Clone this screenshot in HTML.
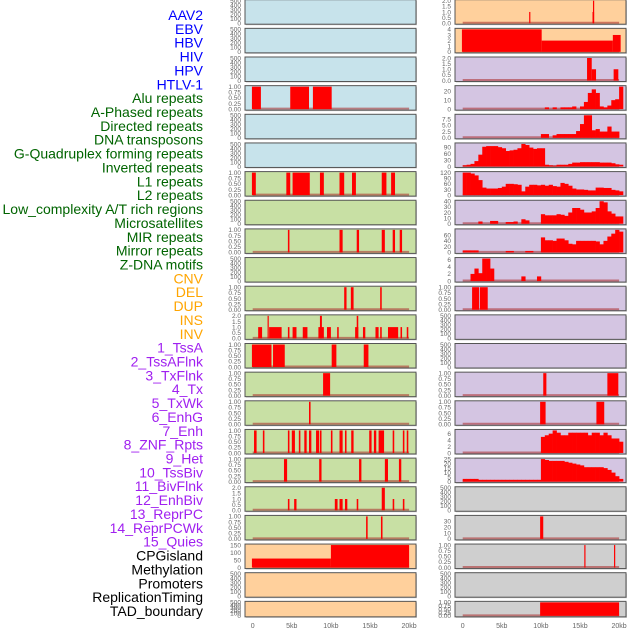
<!DOCTYPE html>
<html><head><meta charset="utf-8">
<style>
html,body{margin:0;padding:0;background:#fff;}
svg{display:block;font-family:"Liberation Sans",sans-serif;}
</style></head>
<body>
<svg id="chart" width="630" height="630" viewBox="0 0 630 630" xmlns="http://www.w3.org/2000/svg">
<g id="labels"></g>
<g id="panels"></g>
<g id="xaxis"></g>
</svg>
<script>
const trackLabels = ["AAV2","EBV","HBV","HIV","HPV","HTLV-1","Alu repeats","A-Phased repeats","Directed repeats","DNA transposons","G-Quadruplex forming repeats","Inverted repeats","L1 repeats","L2 repeats","Low_complexity A/T rich regions","Microsatellites","MIR repeats","Mirror repeats","Z-DNA motifs","CNV","DEL","DUP","INS","INV","1_TssA","2_TssAFlnk","3_TxFlnk","4_Tx","5_TxWk","6_EnhG","7_Enh","8_ZNF_Rpts","9_Het","10_TssBiv","11_BivFlnk","12_EnhBiv","13_ReprPC","14_ReprPCWk","15_Quies","CPGisland","Methylation","Promoters","ReplicationTiming","TAD_boundary"];
const labelGroups = ["v","v","v","v","v","v","r","r","r","r","r","r","r","r","r","r","r","r","r","c","c","c","c","c","s","s","s","s","s","s","s","s","s","s","s","s","s","s","s","k","k","k","k","k"];
const xTickLabels = ["0","5kb","10kb","15kb","20kb"];
const xTickValues = [0,5,10,15,20];

const L3 = [[-0.1,1.05,1],[4.8,7.2,1],[7.7,10.1,1]];
const L6 = [[-0.1,0.4,1],[4.3,4.8,1],[5.1,7.3,1],[8.6,9.1,1],[11.1,11.7,1],[12.7,13.2,1],[16.5,17.1,1],[17.7,18.2,1]];
const L8 = [[4.5,4.7,1],[11.1,11.5,1],[13.3,13.6,1],[16.5,16.9,1],[17.9,18.2,1],[18.8,19.1,1]];
const L10 = [[11.7,12.0,1],[12.55,12.9,1],[16.3,16.5,1]];
const L11 = [[0.7,1.2,1],[1.9,2.05,2],[2.1,3.7,1],[4.5,4.7,1],[5.1,5.6,1],[6.4,7.0,1],[8.4,9.1,1],[8.6,8.85,2],[9.5,10.0,1],[10.8,11.0,1],[13.1,13.5,1],[13.3,13.5,2],[14.1,14.4,1],[15.7,16.1,1],[16.3,16.5,1],[17.3,18.6,1],[18.9,19.1,1],[19.7,19.9,1]];
const L12 = [[-0.1,2.4,1],[2.6,4.1,1],[10.1,10.7,1],[14.2,14.8,1]];
const L13 = [[9.0,9.9,1]];
const L14 = [[7.2,7.4,1]];
const L15 = [[0.17,0.5,1],[1.3,1.5,1],[4.5,4.7,1],[5.0,5.4,1],[5.9,6.1,1],[6.6,6.9,1],[7.2,7.5,1],[8.1,8.5,1],[8.6,8.8,1],[10.0,10.2,1],[11.1,11.5,1],[11.8,12.0,1],[12.6,12.9,1],[14.9,15.2,1],[15.5,15.8,1],[16.1,16.8,1],[17.9,18.1,1],[19.2,19.4,1],[19.7,19.9,1]];
const L16 = [[4.0,4.4,1],[8.5,8.8,1],[13.6,13.9,1],[16.9,17.3,1],[18.7,19.0,1]];
const L17 = [[4.5,4.7,1],[5.3,5.6,1],[10.5,10.85,1],[11.1,11.5,1],[11.8,12.1,1],[13.3,13.5,1],[16.5,16.9,2],[17.9,18.1,1],[19.2,19.4,1]];
const L18 = [[14.5,14.7,1],[16.4,16.6,1]];
const L19 = [[-0.1,10,60],[10,20,150]];

const R0 = [[8.5,8.62,1],[16.6,16.8,1],[16.66,16.78,2]];
const R1 = [[-0.1,10.1,4],[10.1,19.2,2],[19.2,20.2,3]];
const R2 = [[15.9,16.5,2],[16.5,17.05,1],[19.3,19.9,1]];
const R10 = [[1.2,2.1,1],[2.2,3.2,1]];
const R13 = [[10.3,10.7,1],[18.5,19.9,1]];
const R14 = [[9.9,10.6,1],[17.1,18.1,1]];
const R18 = [[9.9,10.3,38]];
const R19 = [[15.55,15.7,1],[19.35,19.5,1]];
const R21 = [[9.9,20,1]];
const R3 = [0,0,0,0,0,0,0,0,0,0,0,0,0,0,0,0,0,0,0,0,0,2,0,2,0,2,2,2,3,0,3,8,18,22,18,3,2,4,10,11,25];
const R4 = [0,0,0,0,0,0,0,0,0,0,0,0,0,0,0,0,0,0,0,0,1.5,1.5,0,1,1.5,1.5,1.5,1.5,1.5,2.7,5.5,9,9,3,3.5,2.5,2.5,4.5,2.5,2.5,0];
const R5 = [5,8,12,25,55,92,95,95,95,90,85,72,75,78,85,105,100,88,82,85,85,8,5,3,8,8,8,12,18,18,20,20,20,20,20,18,18,18,15,10,8];
const R6 = [120,120,115,105,80,40,35,35,35,38,45,60,60,58,55,20,45,55,55,52,55,50,55,48,45,65,60,50,35,30,30,28,25,25,40,40,38,38,28,25,20];
const R7 = [0,0,0,0,4,0,0,5,5,0,0,3,3,4,0,8,6,0,0,0,17,15,15,15,17,16,14,20,28,28,25,20,20,22,28,40,38,22,18,13,13];
const R8 = [7,7,7,7,0,0,0,0,0,0,0,5,5,0,0,0,5,5,0,0,52,42,42,40,48,48,42,30,28,40,40,40,40,40,38,28,40,55,65,78,72];
const R9 = [0,0,2,3.5,2.2,6.3,6.3,3.5,0,0,0,0,0,0,0,1.3,0,0,0,1.3,0,0,0,0,0,0,0,0,0,0,0,0,0,0,0,0,0,0,0,0,0];
const R15 = [0,0,0,0,0,0,0,0,0,0,0,0,0,0,0,0,0,0,0,0,5,5.5,6,7,6.3,5.5,5.5,6.3,6.3,6.3,6.3,6.3,5.5,6.3,6.3,5.5,6.3,5.5,4.5,4.5,3.5];
const R16 = [3,3,3,3,2,2,2,2,2,2,2,2,2,2,2,2,2,2,2,2,25,24,23,23,23,23,22,21,20,19,18,16,16,16,16,16,15,13,10,6,3];

const TK_E = [0,100,200,300,400,500];
const TK_B = [0,0.25,0.5,0.75,1];
const TK_2 = [0,0.5,1,1.5,2];

const BG = {b:"#c7e3eb",g:"#c8e0a4",p:"#ffd09c",u:"#d4c5e2",k:"#cfcfcf"};
const leftPanels = [
 ["b",null,"e",500,TK_E,0],["b",null,"e",500,TK_E,0],["b",null,"e",500,TK_E,0],
 ["b",L3,"iv",1,TK_B,2],["b",null,"e",500,TK_E,0],["b",null,"e",500,TK_E,0],
 ["g",L6,"iv",1,TK_B,2],["g",null,"e",500,TK_E,0],["g",L8,"iv",1,TK_B,2],
 ["g",null,"e",500,TK_E,0],["g",L10,"iv",1,TK_B,2],["g",L11,"iv",2,TK_2,1],
 ["g",L12,"iv",1,TK_B,2],["g",L13,"iv",1,TK_B,2],["g",L14,"iv",1,TK_B,2],
 ["g",L15,"iv",1,TK_B,2],["g",L16,"iv",1,TK_B,2],["g",L17,"iv",2,TK_2,1],
 ["g",L18,"iv",1,TK_B,2],["p",L19,"iv",150,[0,50,100,150],0],["p",null,"e",500,TK_E,0],
 ["p",null,"e",500,TK_E,0]
];
const rightPanels = [
 ["p",R0,"iv",2,TK_2,1],["p",R1,"iv",4,[0,1,2,3,4],0],["u",R2,"iv",2,TK_2,1],
 ["u",R3,"bin",25,[0,10,20],0],["u",R4,"bin",9,[0,2.5,5,7.5],1],["u",R5,"bin",105,[0,30,60,90],0],
 ["u",R6,"bin",120,[0,30,60,90,120],0],["u",R7,"bin",40,[0,10,20,30,40],0],["u",R8,"bin",78,[0,20,40,60],0],
 ["u",R9,"bin",6.3,[0,2,4,6],0],["u",R10,"iv",1,TK_B,2],["u",null,"e",500,TK_E,0],
 ["u",null,"e",500,TK_E,0],["u",R13,"iv",1,TK_B,2],["u",R14,"iv",1,TK_B,2],
 ["u",R15,"bin",7,[0,2,4,6],0],["u",R16,"bin",25,[0,5,10,15,20,25],0],["k",null,"e",500,TK_E,0],
 ["k",R18,"iv",38,[0,10,20,30],0],["k",R19,"iv",1,TK_B,2],["k",null,"e",500,TK_E,0],
 ["k",R21,"iv",1,TK_B,2]
];

const NS = "http://www.w3.org/2000/svg";
function mk(tag, attrs, parent){const e=document.createElementNS(NS,tag);for(const k in attrs)e.setAttribute(k,attrs[k]);parent.appendChild(e);return e;}
const COLORS = {v:"#0000ff",r:"#006400",c:"#ffa500",s:"#a020f0",k:"#000000"};
const gl = document.getElementById("labels");
trackLabels.forEach((t,i)=>{
  const e = mk("text",{x:203,y:(20+i*13.86).toFixed(1),"text-anchor":"end","font-size":"14",fill:COLORS[labelGroups[i]]},gl);
  
  
  e.textContent = t;
});

const gp = document.getElementById("panels");
const SCALE = 7.82;
function drawPanel(p, i, boxX, x0, side){
  const top = i*28.65 - 0.3;
  const h = i===21 ? 15.5 : 24.5;
  const w = 171;
  const [bg,data,kind,ymax,ticks,dec] = p;
  const g = mk("g",{},gp);
  
  
  mk("rect",{x:boxX+1,y:top+1,width:w,height:h,fill:"#999",opacity:0.5},g);
  const bgr = mk("rect",{x:boxX,y:top,width:w,height:h,fill:BG[bg]},g);
  
  
  const ys = v => top + h - 1 - v/ymax*(h-2);
  const xs = kb => x0 + kb*SCALE;
  if(kind!=="e"){
    mk("line",{x1:xs(0),x2:xs(20),y1:top+h-1.5,y2:top+h-1.5,stroke:"rgba(170,40,40,0.55)","stroke-width":2},g);
  }
  if(kind==="iv"){
    data.forEach(d=>{
      const r = mk("rect",{x:xs(d[0]).toFixed(2),y:ys(d[2]).toFixed(2),width:Math.max(1.2,xs(d[1])-xs(d[0])).toFixed(2),height:(ys(0)-ys(d[2])).toFixed(2),fill:"#ff0000"},g);
      
      
    });
  } else if(kind==="bin"){
    data.forEach((v,j)=>{
      if(v<=0) return;
      const r = mk("rect",{x:xs(j*0.5).toFixed(2),y:ys(v).toFixed(2),width:(SCALE*0.5+0.3).toFixed(2),height:(ys(0)-ys(v)).toFixed(2),fill:"#ff0000"},g);
      
      
    });
  }
  mk("rect",{x:boxX,y:top,width:w,height:h,fill:"none",stroke:"#555","stroke-width":1},g);
  ticks.forEach(t=>{
    const e = mk("text",{x:boxX-4,y:(ys(t)+2.3).toFixed(1),"text-anchor":"end","font-size":"6.5",fill:"#666"},g);
    
    
    e.textContent = t.toFixed(dec);
  });
}
leftPanels.forEach((p,i)=>drawPanel(p,i,245,252.7,"left"));
rightPanels.forEach((p,i)=>drawPanel(p,i,455,462.7,"right"));

const gx = document.getElementById("xaxis");
[252.7,462.7].forEach(x0=>{
  xTickValues.forEach((v,j)=>{
    const e = mk("text",{x:(x0+v*SCALE).toFixed(1),y:628,"text-anchor":"middle","font-size":"7",fill:"#666"},gx);
    
    
    e.textContent = xTickLabels[j];
  });
});
</script>
</body></html>
